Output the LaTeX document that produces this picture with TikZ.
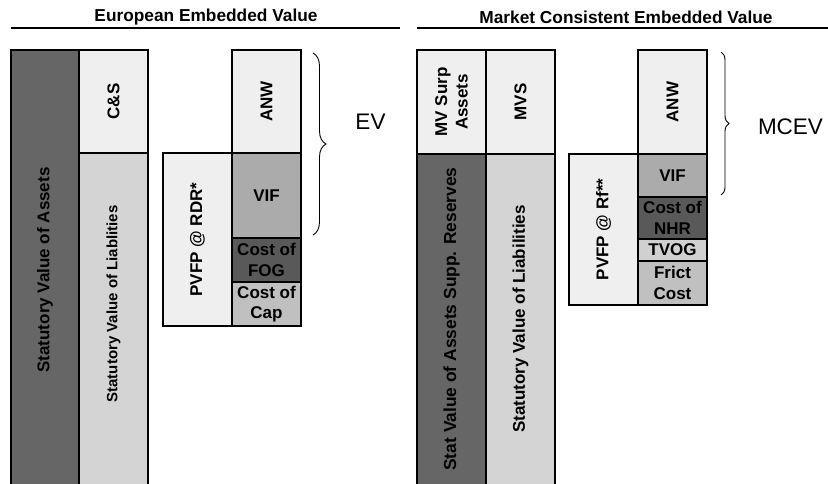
\documentclass[tikz,border=0pt]{standalone}
\usepackage{fontspec}
\setmainfont{Liberation Sans}
\usetikzlibrary{fit,decorations.pathreplacing}
\definecolor{cdark}{HTML}{666666}
\definecolor{cdarker}{HTML}{595959}
\definecolor{clight}{HTML}{EFEFEF}
\definecolor{cliab}{HTML}{D4D4D4}
\definecolor{cvif}{HTML}{ABABAB}
\definecolor{ccap}{HTML}{C0C0C0}
\definecolor{ctvog}{HTML}{D0D0D0}
\begin{document}
\begin{tikzpicture}[x=1pt,y=-1pt,
  cell/.style={draw=black, line width=2pt, inner sep=0pt, outer sep=0pt},
  lbl/.style={inner sep=0pt, align=center, font=\fontsize{17}{20.5}\selectfont\bfseries},
  vlbl/.style={lbl, rotate=90},
  ttl/.style={inner sep=0pt, font=\fontsize{17.3}{20}\selectfont\bfseries},
  big/.style={inner sep=0pt, font=\fontsize{22.5}{26}\selectfont},
  bracestyle/.style={decorate, line width=0.9pt},
  rule/.style={line width=2pt}]
\useasboundingbox (0,0) rectangle (828,484);
\clip (0,0) rectangle (828,484);

% titles
\node[ttl] (t1) at (206,17.5) {European Embedded Value};
\node[ttl] (t2) at (626,17.5) {Market Consistent Embedded Value};
\coordinate (u1a) at (11,27.7); \coordinate (u1b) at (400,27.7);
\coordinate (u2a) at (417,27.7); \coordinate (u2b) at (830,27.7);
\draw[rule] (u1a) -- (u1b);
\draw[rule] (u2a) -- (u2b);

% ---------- European Embedded Value ----------
\node[cell, fill=cdark, fit={(11,50) (79,490)}] (assets) {};
\node[cell, fill=clight, fit={(79,50) (148,153)}] (cs) {};
\node[cell, fill=cliab, fit={(79,153) (148,490)}] (liab) {};
\node[cell, fill=clight, fit={(163,153) (232,326)}] (pvfp) {};
\node[cell, fill=clight, fit={(232,50) (301,153)}] (anw) {};
\node[cell, fill=cvif, fit={(232,153) (301,238)}] (vif) {};
\node[cell, fill=cdarker, fit={(232,238) (301,282)}] (fog) {};
\node[cell, fill=ccap, fit={(232,282) (301,326)}] (cap) {};

\node[vlbl] (assetsT) at (assets.center) {Statutory Value of Assets};
\node[vlbl] (csT) at (cs.center) {C\&S};
\node[vlbl, font=\fontsize{15}{18}\selectfont\bfseries] (liabT) at (113.5,304) {Statutory Value of Liablities};
\node[vlbl] (pvfpT) at (pvfp.center) {PVFP @ RDR*};
\node[vlbl] (anwT) at (anw.center) {ANW};
\node[lbl] (vifT) at (vif.center) {VIF};
\node[lbl] (fogT) at (fog.center) {Cost of\\FOG};
\node[lbl] (capT) at (cap.center) {Cost of\\Cap};

\coordinate (br1a) at (313,53); \coordinate (br1b) at (313,235);
\draw[bracestyle, decoration={brace, amplitude=13pt}] (br1a) -- (br1b);
\node[big] (ev) at (370.5,122) {EV};

% ---------- Market Consistent Embedded Value ----------
\node[cell, fill=clight, fit={(417,50) (486,154)}] (mvsa) {};
\node[cell, fill=clight, fit={(486,50) (555,154)}] (mvs) {};
\node[cell, fill=cdark, fit={(417,154) (486,490)}] (sva) {};
\node[cell, fill=cliab, fit={(486,154) (555,490)}] (svl) {};
\node[cell, fill=clight, fit={(569,154) (638,305)}] (pvfp2) {};
\node[cell, fill=clight, fit={(638,50) (707,154)}] (anw2) {};
\node[cell, fill=cvif, fit={(638,154) (707,197)}] (vif2) {};
\node[cell, fill=cdarker, fit={(638,197) (707,239)}] (nhr) {};
\node[cell, fill=ctvog, fit={(638,239) (707,261)}] (tvog) {};
\node[cell, fill=ccap, fit={(638,261) (707,305)}] (frict) {};

\node[vlbl] (mvsaT) at (mvsa.center) {MV Surp\\Assets};
\node[vlbl] (mvsT) at (mvs.center) {MVS};
\node[vlbl, font=\fontsize{17.4}{21}\selectfont\bfseries] (svaT) at (451.5,319) {Stat Value of Assets Supp. Reserves};
\node[vlbl] (svlT) at (520.5,319) {Statutory Value of Liabilities};
\node[vlbl] (pvfp2T) at (pvfp2.center) {PVFP @ Rf**};
\node[vlbl] (anw2T) at (anw2.center) {ANW};
\node[lbl] (vif2T) at (vif2.center) {VIF};
\node[lbl] (nhrT) at (nhr.center) {Cost of\\NHR};
\node[lbl] (tvogT) at (tvog.center) {TVOG};
\node[lbl] (frictT) at (frict.center) {Frict\\Cost};

\coordinate (br2a) at (721,52); \coordinate (br2b) at (721,195);
\draw[bracestyle, decoration={brace, amplitude=8pt}] (br2a) -- (br2b);
\node[big] (mcev) at (790.5,126.5) {MCEV};
\end{tikzpicture}
\end{document}
